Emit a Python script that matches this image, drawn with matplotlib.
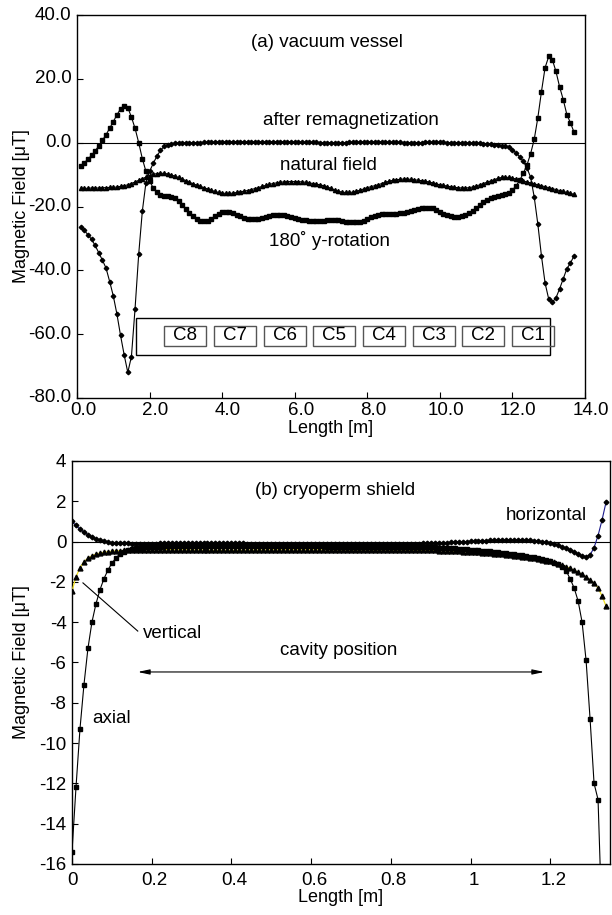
import numpy as np
import matplotlib
matplotlib.use("Agg")
import matplotlib.pyplot as plt
from matplotlib.patches import Rectangle
from matplotlib.transforms import ScaledTranslation

plt.rcParams['font.family'] = ['Liberation Sans', 'DejaVu Sans']
plt.rcParams['axes.unicode_minus'] = False

# ---------------- panel (a) data ----------------
x_a = np.arange(1, 138) / 10.0  # measurement positions 0.1 ... 13.7 m

rot180 = [-7.2, -6.3, -5.2, -4.0, -2.6, -1.0, 0.7, 2.5, 4.5, 6.6,
          8.7, 10.6, 11.6, 11.0, 8.0, 4.5, 0.0, -5.0, -9.0, -12.0,
          -14.2, -15.6, -16.3, -16.6, -16.8, -17.0, -17.4, -18.3, -19.6, -20.9,
          -22.1, -23.1, -23.9, -24.4, -24.6, -24.4, -23.9, -23.1, -22.3, -21.8,
          -21.6, -21.7, -22.1, -22.6, -23.1, -23.5, -23.8, -24.0, -24.0, -23.8,
          -23.5, -23.2, -22.9, -22.7, -22.6, -22.6, -22.7, -23.0, -23.3, -23.7,
          -24.0, -24.2, -24.3, -24.4, -24.4, -24.4, -24.4, -24.4, -24.3, -24.2,
          -24.2, -24.3, -24.5, -24.7, -24.9, -25.0, -25.0, -24.8, -24.4, -23.9,
          -23.4, -23.0, -22.7, -22.5, -22.4, -22.4, -22.4, -22.3, -22.1, -21.9,
          -21.6, -21.3, -21.0, -20.8, -20.6, -20.5, -20.4, -20.5, -21.0, -21.6,
          -22.2, -22.7, -23.0, -23.2, -23.2, -23.0, -22.6, -22.0, -21.3, -20.5,
          -19.6, -18.7, -18.0, -17.4, -17.0, -16.7, -16.4, -16.1, -15.7, -14.9,
          -13.5, -11.8, -9.6, -7.0, -3.5, 1.0, 7.8, 16.0, 23.5, 27.0,
          26.0, 22.3, 17.5, 13.5, 8.8, 6.2, 3.2]

remag = [-26.5, -27.5, -28.8, -30.3, -32.2, -34.5, -36.8, -39.3, -43.5, -48.0,
         -53.7, -60.4, -66.5, -72.0, -67.0, -52.0, -35.0, -21.5, -12.5, -9.0,
         -6.5, -4.3, -2.4, -1.2, -0.6, -0.3, -0.2, -0.1, -0.1, -0.1,
         0.0, 0.0, 0.0, 0.0, 0.1, 0.1, 0.1, 0.1, 0.2,
         0.2, 0.2, 0.3, 0.3, 0.3, 0.3, 0.3, 0.2, 0.2, 0.2,
         0.2, 0.2, 0.2, 0.3, 0.3, 0.3, 0.3, 0.3, 0.3, 0.2,
         0.2, 0.2, 0.1, 0.1, 0.1, 0.1, 0.1, 0.0, 0.0, 0.0,
         0.0, 0.0, 0.0, 0.0, 0.0, 0.1, 0.1, 0.1, 0.2, 0.2,
         0.2, 0.2, 0.2, 0.2, 0.2, 0.1, 0.1, 0.1, 0.1, 0.1,
         0.0, 0.0, 0.0, 0.0, 0.0, 0.0, 0.1, 0.1, 0.1, 0.1,
         0.1, 0.1, 0.0, 0.0, 0.0, 0.0, 0.0, -0.1, -0.1, -0.1,
         -0.2, -0.2, -0.3, -0.4,
         -0.5, -0.6, -0.7, -0.9, -1.1, -1.5, -2.2, -3.2, -4.4, -5.9,
         -7.9, -10.8, -17.0, -25.5, -35.5, -44.0, -49.0, -50.0, -48.6, -45.8,
         -42.6, -39.5, -37.7, -35.4]

natural = [-14.3, -14.3, -14.3, -14.2, -14.2, -14.2, -14.1, -14.1, -14.0, -14.0,
           -13.9, -13.7, -13.5, -13.2, -12.8, -12.3, -11.8, -11.3, -10.8, -10.3,
           -9.9, -9.7, -9.6, -9.6, -9.8, -10.1, -10.5, -10.9, -11.4, -11.9,
           -12.4, -12.9, -13.3, -13.7, -14.1, -14.5, -14.9, -15.3, -15.6, -15.8,
           -15.9, -15.9, -15.8, -15.6, -15.4, -15.2, -15.0, -14.7, -14.4, -14.1,
           -13.7, -13.4, -13.1, -12.8, -12.6, -12.4, -12.3, -12.2, -12.2, -12.2,
           -12.2, -12.3, -12.4, -12.6, -12.8, -13.0, -13.2, -13.5, -13.9, -14.3,
           -14.8, -15.2, -15.5, -15.6, -15.6, -15.5, -15.2, -14.9, -14.5, -14.1,
           -13.8, -13.5, -13.2, -12.8, -12.4, -12.1, -11.8, -11.6, -11.5, -11.4,
           -11.4, -11.5, -11.6, -11.8, -11.9, -12.1, -12.3, -12.6, -12.9, -13.2,
           -13.4, -13.6, -13.8, -14.0, -14.1, -14.2, -14.2, -14.1, -13.9, -13.6,
           -13.2, -12.8, -12.4, -12.0, -11.6, -11.2, -10.9, -10.8, -10.9, -11.1,
           -11.4, -11.7, -12.0, -12.3, -12.6, -12.9, -13.2, -13.5, -13.8, -14.1,
           -14.4, -14.7, -15.0, -15.3, -15.6, -15.9, -16.2]

cavities = ["C8", "C7", "C6", "C5", "C4", "C3", "C2", "C1"]

# ---------------- panel (b) data ----------------
x_b = np.arange(0, 135) / 100.0  # 0.00 ... 1.34 m

horizontal = [1.00, 0.80, 0.62, 0.47, 0.34, 0.23, 0.14, 0.07, 0.02, -0.02,
              -0.05, -0.07, -0.08, -0.09, -0.09, -0.10, -0.10, -0.10, -0.10, -0.10,
              -0.10, -0.10, -0.09, -0.09, -0.09, -0.08, -0.08, -0.08, -0.08, -0.08,
              -0.08, -0.08, -0.08, -0.08, -0.08, -0.08, -0.09, -0.09, -0.09, -0.09,
              -0.09, -0.09, -0.09, -0.09, -0.10, -0.10, -0.10, -0.10, -0.10, -0.10,
              -0.10, -0.10, -0.10, -0.10, -0.10, -0.10, -0.10, -0.10, -0.10, -0.10,
              -0.10, -0.10, -0.10, -0.10, -0.11, -0.11, -0.11, -0.11, -0.11, -0.11,
              -0.11, -0.11, -0.11, -0.11, -0.11, -0.11, -0.11, -0.11, -0.11, -0.11,
              -0.11, -0.11, -0.11, -0.11, -0.10, -0.10, -0.10, -0.10, -0.09, -0.09,
              -0.08, -0.08, -0.07, -0.06, -0.05, -0.04, -0.03, -0.02, -0.01, 0.00,
              0.01, 0.02, 0.03, 0.04, 0.05, 0.06, 0.06, 0.07, 0.07, 0.08,
              0.08, 0.08, 0.08, 0.07, 0.07, 0.06, 0.04, 0.02, 0.00, -0.03,
              -0.07, -0.12, -0.18, -0.25, -0.33, -0.42, -0.52, -0.62, -0.70, -0.74,
              -0.66, -0.30, 0.30, 1.07, 1.95]

vertical = [-2.45, -1.75, -1.30, -1.00, -0.82, -0.70, -0.62, -0.57, -0.53, -0.50,
            -0.48, -0.46, -0.45, -0.44, -0.43, -0.42, -0.42, -0.41, -0.41, -0.40,
            -0.40, -0.40, -0.40, -0.40, -0.40, -0.40, -0.41, -0.41, -0.41, -0.41,
            -0.42, -0.42, -0.42, -0.42, -0.43, -0.43, -0.43, -0.43, -0.43, -0.43,
            -0.43, -0.43, -0.43, -0.43, -0.42, -0.42, -0.42, -0.42, -0.42, -0.42,
            -0.41, -0.41, -0.41, -0.41, -0.41, -0.41, -0.41, -0.41, -0.41, -0.41,
            -0.41, -0.41, -0.41, -0.41, -0.41, -0.41, -0.41, -0.42, -0.42, -0.42,
            -0.42, -0.42, -0.42, -0.42, -0.42, -0.42, -0.42, -0.42, -0.42, -0.42,
            -0.42, -0.42, -0.42, -0.42, -0.43, -0.43, -0.43, -0.43, -0.43, -0.43,
            -0.44, -0.44, -0.45, -0.45, -0.46, -0.47, -0.48, -0.49, -0.50, -0.51,
            -0.52, -0.53, -0.54, -0.56, -0.57, -0.59, -0.60, -0.62, -0.64, -0.66,
            -0.68, -0.70, -0.72, -0.75, -0.77, -0.80, -0.83, -0.86, -0.90, -0.94,
            -0.98, -1.03, -1.09, -1.16, -1.24, -1.33, -1.42, -1.52, -1.63, -1.76,
            -1.90, -2.07, -2.30, -2.70, -3.20]

axial = [-15.4, -12.2, -9.3, -7.1, -5.3, -4.0, -3.1, -2.4, -1.85, -1.42,
         -1.07, -0.82, -0.62, -0.50, -0.42, -0.36, -0.32, -0.30, -0.28, -0.27,
         -0.26, -0.25, -0.25, -0.24, -0.24, -0.24, -0.23, -0.23, -0.23, -0.23,
         -0.23, -0.23, -0.23, -0.23, -0.23, -0.23, -0.23, -0.23, -0.23, -0.23,
         -0.23, -0.23, -0.24, -0.24, -0.24, -0.24, -0.24, -0.24, -0.24, -0.24,
         -0.24, -0.24, -0.24, -0.24, -0.24, -0.24, -0.24, -0.24, -0.24, -0.24,
         -0.24, -0.24, -0.24, -0.24, -0.25, -0.25, -0.25, -0.25, -0.25, -0.25,
         -0.25, -0.25, -0.25, -0.25, -0.25, -0.25, -0.25, -0.25, -0.25, -0.25,
         -0.25, -0.26, -0.26, -0.26, -0.26, -0.27, -0.27, -0.27, -0.28, -0.28,
         -0.29, -0.29, -0.30, -0.31, -0.32, -0.33, -0.34, -0.35, -0.37, -0.38,
         -0.40, -0.41, -0.43, -0.45, -0.47, -0.49, -0.51, -0.53, -0.55, -0.57,
         -0.60, -0.62, -0.65, -0.68, -0.71, -0.74, -0.78, -0.82, -0.86, -0.91,
         -0.97, -1.04, -1.13, -1.25, -1.45, -1.85, -2.30, -2.95, -4.00, -5.90,
         -8.80, -12.00, -12.80, -19.00]

xticks_a = [0, 2, 4, 6, 8, 10, 12, 14]
yticks_a = [40, 20, 0, -20, -40, -60, -80]
xticks_b = [0, 0.2, 0.4, 0.6, 0.8, 1.0, 1.2]
yticks_b = [4, 2, 0, -2, -4, -6, -8, -10, -12, -14, -16]

FS = 13.5

fig = plt.figure(figsize=(6.12, 9.15), dpi=100)

# ================= panel (a) =================
ax1 = fig.add_axes([77/612, 1-398/915, 508/612, 383/915])
ax1.axhline(0, color='black', lw=0.8, zorder=1)
ax1.plot(x_a, rot180, color='black', lw=0.8, marker='s', ms=3.4, mfc='black', mec='black', zorder=3)
ax1.plot(x_a, remag, color='black', lw=0.8, marker='D', ms=2.3, mfc='black', mec='black', zorder=3)
ax1.plot(x_a, natural, color='black', lw=0.8, marker='^', ms=3.0, mfc='black', mec='black', zorder=3)
ax1.set_xlim(0, 14)
ax1.set_ylim(-80, 40)
ax1.set_xticks(xticks_a)
ax1.set_yticks(yticks_a)
ax1.set_xticklabels([f"{v:.1f}" for v in xticks_a])
ax1.set_yticklabels([f"{v:.1f}" for v in yticks_a])
ax1.tick_params(direction='in', length=4, width=0.8, labelsize=FS, pad=4)
ax1.tick_params(axis='x', pad=3)
shift = ScaledTranslation(6/100, 0, fig.dpi_scale_trans)
for lab in ax1.get_xticklabels():
    lab.set_transform(lab.get_transform() + shift)
shift_y = ScaledTranslation(0, 2/100, fig.dpi_scale_trans)
for lab in ax1.get_yticklabels():
    lab.set_transform(lab.get_transform() + shift_y)
ax1.set_xlabel("Length [m]", fontsize=13)
ax1.set_ylabel("Magnetic Field [\u03bcT]", fontsize=13)
ax1.yaxis.set_label_coords(-0.093, 0.5)
ax1.xaxis.set_label_coords(0.5, -0.057)
for s in ax1.spines.values():
    s.set_linewidth(1.0)

ax1.text(6.9, 31.3, "(a) vacuum vessel", fontsize=FS, ha='center', va='center')
ax1.text(7.55, 6.9, "after remagnetization", fontsize=FS, ha='center', va='center')
ax1.text(6.94, -7.2, "natural field", fontsize=FS, ha='center', va='center')
ax1.text(6.97, -30.7, "180\u02da y-rotation", fontsize=FS, ha='center', va='center')

# cavity string box
ax1.add_patch(Rectangle((1.62, -66.5), 13.03 - 1.62, 11.6, fill=False, ec='black', lw=1.0, zorder=4))
for i, name in enumerate(cavities):
    x0 = 2.40 + i * 1.37
    ax1.add_patch(Rectangle((x0, -63.6), 1.16, 6.2, fill=False, ec='#555555', lw=1.0, zorder=4))
    ax1.text(x0 + 0.58, -60.5, name, fontsize=FS, ha='center', va='center', zorder=5)

# ================= panel (b) =================
ax2 = fig.add_axes([72/612, 1-864/915, 538/612, 403/915])
ax2.axhline(0, color='black', lw=0.8, zorder=1)
ax2.plot(x_b, horizontal, color='#1a1a8c', lw=0.8, marker='D', ms=2.4, mfc='black', mec='black', zorder=3)
ax2.plot(x_b, vertical, color='#f0e020', lw=0.9, marker='^', ms=3.5, mfc='black', mec='black', zorder=3)
ax2.plot(x_b[:len(axial)], axial, color='black', lw=0.8, marker='s', ms=3.4, mfc='black', mec='black', zorder=3)
ax2.set_xlim(0, 1.35)
ax2.set_ylim(-16, 4)
ax2.set_xticks(xticks_b)
ax2.set_yticks(yticks_b)
ax2.set_xticklabels(["0", "0.2", "0.4", "0.6", "0.8", "1", "1.2"])
ax2.set_yticklabels([str(v) for v in yticks_b])
ax2.tick_params(direction='in', length=4, width=0.8, labelsize=FS, pad=4)
ax2.tick_params(axis='x', pad=6)
shift_b = ScaledTranslation(3/100, 0, fig.dpi_scale_trans)
for lab in ax2.get_xticklabels()[1:]:
    lab.set_transform(lab.get_transform() + shift_b)
ax2.set_xlabel("Length [m]", fontsize=13)
ax2.set_ylabel("Magnetic Field [\u03bcT]", fontsize=13)
ax2.yaxis.set_label_coords(-0.078, 0.5)
ax2.xaxis.set_label_coords(0.5, -0.062)
for s in ax2.spines.values():
    s.set_linewidth(1.0)

ax2.text(0.66, 2.56, "(b) cryoperm shield", fontsize=FS, ha='center', va='center')
ax2.text(1.19, 1.32, "horizontal", fontsize=FS, ha='center', va='center')
ax2.text(0.178, -4.54, "vertical", fontsize=FS, ha='left', va='center')
ax2.plot([0.0275, 0.165], [-2.05, -4.44], color='black', lw=0.8)
ax2.text(0.67, -5.4, "cavity position", fontsize=FS, ha='center', va='center')
ax2.annotate("", xy=(0.165, -6.47), xytext=(1.185, -6.47),
             arrowprops=dict(arrowstyle='<|-|>,head_length=0.7,head_width=0.15',
                             color='black', lw=0.8, shrinkA=0, shrinkB=0))
ax2.text(0.1, -8.8, "axial", fontsize=FS, ha='center', va='center')

fig.savefig("out.png", dpi=100)
